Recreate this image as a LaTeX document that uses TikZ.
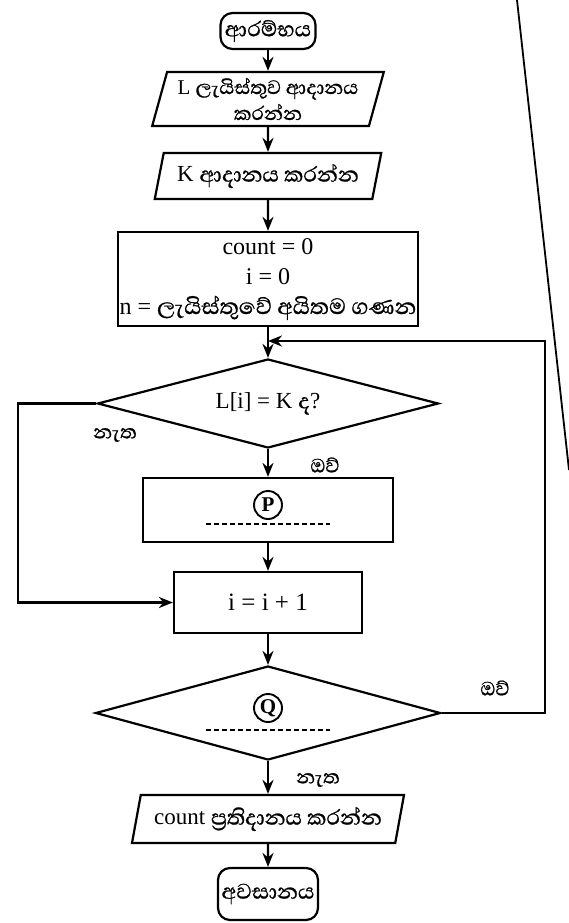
\documentclass[tikz,border=0pt]{standalone}
\usepackage{fontspec}
\setmainfont{Liberation Serif}
\newfontfamily\si[Script=Sinhala,Scale=1.18,FakeBold=0.8]{Abhaya Libre}
\usetikzlibrary{shapes.geometric,arrows.meta}
\begin{document}
\begin{tikzpicture}[x=1pt,y=-1pt, line width=2.2pt,
  font=\fontsize{23}{26}\selectfont,
  arr/.style={-{Stealth[length=14pt,width=11pt]}},
  term/.style={draw, rounded corners=12pt, minimum width=95pt, minimum height=36pt, inner sep=2pt},
  io/.style={draw, trapezium, trapezium left angle=73, trapezium right angle=107,
             trapezium stretches=true, align=center, inner sep=1pt},
  proc/.style={draw, rectangle, align=center, inner sep=2pt},
  dec/.style={draw, diamond, aspect=3.8, inner sep=0pt},
  lbl/.style={font=\si\fontsize{21}{22}\selectfont},
  circmark/.style={circle, draw, inner sep=0pt, minimum size=28pt, line width=1.9pt,
               font=\bfseries\fontsize{21}{22}\selectfont},
  blank/.style={dashed, dash pattern=on 5pt off 3pt, line width=1.8pt}]
\useasboundingbox (0,0) rectangle (569,923);

% page border line
\coordinate (b1) at (517,0);
\coordinate (b2) at (569,470);
\draw[line width=1.8pt] (b1) -- (b2);

\node[term] (start) at (268,31) {\si ආරම්භය};
\node[io, minimum width=232pt, minimum height=54pt,
      font=\fontsize{21}{24}\selectfont] (in1) at (268,99)
  {L {\si ලැයිස්තුව ආදානය}\\[2pt]{\si කරන්න}};
\node[io, minimum width=227pt, minimum height=46pt] (in2) at (268,176)
  {K {\si ආදානය කරන්න}};
\node[proc, minimum width=300pt, minimum height=94pt,
      font=\fontsize{24}{30}\selectfont] (init) at (268,279)
  {count = 0\\ i = 0\\ n = {\si ලැයිස්තුවේ අයිතම ගණන}};
\coordinate (join) at (268,341);
\node[dec, minimum width=341pt, minimum height=89pt] (d1) at (268,403.5)
  {L[i] = K {\si ද}?};
\node[proc, minimum width=250pt, minimum height=64pt] (p) at (268,510) {};
\node[circmark] (pc) at (268,505) {P};
\coordinate (pd1) at (206,524);
\coordinate (pd2) at (330,524);
\draw[blank] (pd1) -- (pd2);
\node[proc, minimum width=188pt, minimum height=61pt, font=\fontsize{25}{28}\selectfont] (inc) at (268,602.5) {i = i + 1};
\node[dec, minimum width=345pt, minimum height=94pt] (d2) at (268,713) {};
\node[circmark] (qc) at (268,708) {Q};
\coordinate (qd1) at (206,730);
\coordinate (qd2) at (330,730);
\draw[blank] (qd1) -- (qd2);
\node[io, minimum width=273pt, minimum height=48pt] (out) at (268,819)
  {count {\si ප්^^^^200dරතිදානය කරන්න}};
\node[term, minimum width=100pt, minimum height=52pt] (end) at (268,894) {\si අවසානය};

% connectors
\draw[arr] (start) -- (in1);
\draw[arr] (in1) -- (in2);
\draw[arr] (in2) -- (init);
\draw[arr] (init) -- (d1);
\draw[arr] (d1) -- (p);
\draw[arr] (p) -- (inc);
\draw[arr] (inc) -- (d2);
\draw[arr] (d2) -- (out);
\draw[arr] (out) -- (end);

\coordinate (l1) at (18,403.5);
\coordinate (l2) at (18,602.5);
\draw[arr] (d1.west) -- (l1) -- (l2) -- (inc.west);

\coordinate (r1) at (545,713);
\coordinate (r2) at (545,341);
\draw[arr] (d2.east) -- (r1) -- (r2) -- (join);

% labels
\node[lbl] (no1) at (115,435) {නැත};
\node[lbl] (yes1) at (325,465) {ඔව්};
\node[lbl] (yes2) at (495,688) {ඔව්};
\node[lbl] (no2) at (318,780) {නැත};
\end{tikzpicture}
\end{document}
